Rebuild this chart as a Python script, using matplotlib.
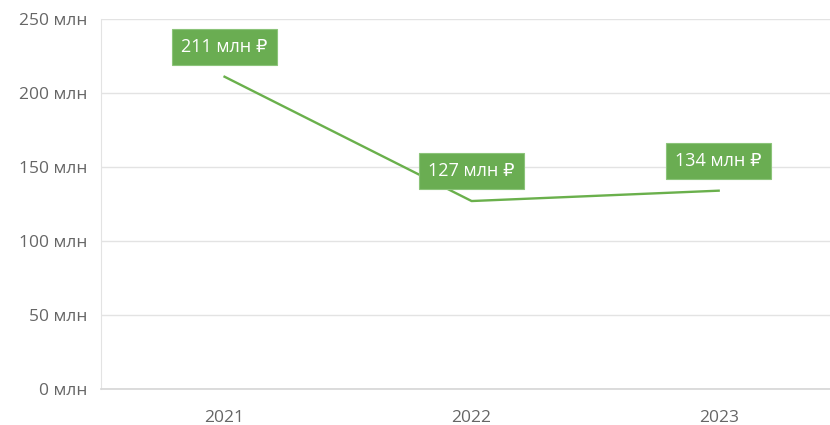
import matplotlib.pyplot as plt

plt.rcParams['font.family'] = ['Open Sans', 'DejaVu Sans']

# данные
years = ['2021', '2022', '2023']
values = [211, 127, 134]
point_labels = ['211 млн ₽', '127 млн ₽', '134 млн ₽']
yticks = [0, 50, 100, 150, 200, 250]

green = '#6ab04c'
box_green = '#6aad52'

fig = plt.figure(figsize=(8.3, 4.25), dpi=100)
ax = fig.add_axes([0.1217, 0.0847, 0.893, 0.8706])

x = list(range(len(years)))
ax.plot(x, values, color=green, lw=1.7, zorder=3)

for xi, v, lab in zip(x, values, point_labels):
    ax.annotate(lab, (xi, v), xytext=(0, 15), textcoords='offset points',
                ha='center', va='bottom', color='white', fontsize=13,
                bbox=dict(boxstyle='square,pad=0.5', fc=box_green, ec='#8cc47a', lw=0.8),
                zorder=4)

ax.set_xlim(-0.5, 2.5)
ax.set_ylim(0, 250)
ax.set_xticks(x)
ax.set_xticklabels(years)
ax.set_yticks(yticks)
ax.set_yticklabels([f'{t} млн' for t in yticks])
ax.tick_params(axis='both', length=0, labelsize=12.5, colors='#666666')
ax.tick_params(axis='x', pad=15)
ax.tick_params(axis='y', pad=10)

ax.grid(axis='y', color='#e3e3e3', lw=1)
ax.set_axisbelow(True)
for s in ['top', 'right']:
    ax.spines[s].set_visible(False)
ax.spines['left'].set_color('#e3e3e3')
ax.spines['bottom'].set_color('#d6d6d6')
ax.spines['bottom'].set_linewidth(1.2)

fig.savefig('out.png', dpi=100)
